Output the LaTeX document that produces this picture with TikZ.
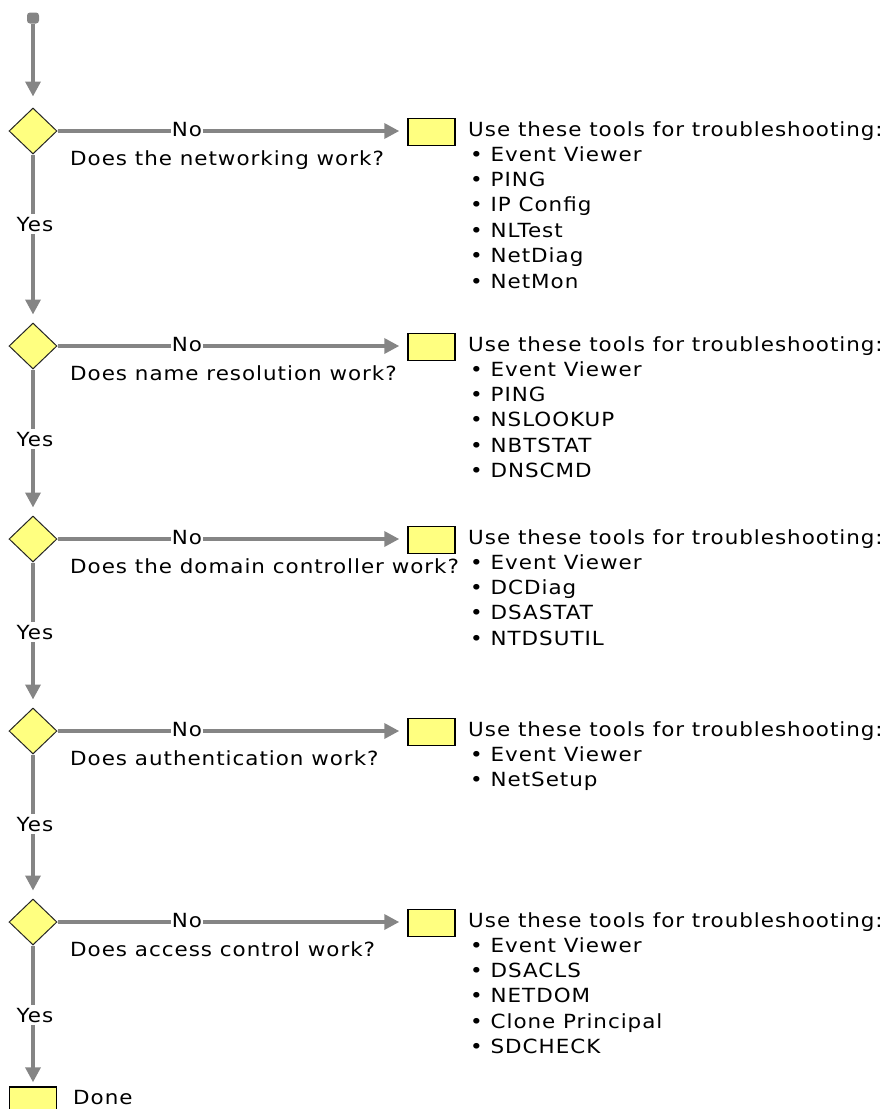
\documentclass[tikz,border=0pt]{standalone}
\usepackage{fontspec}
\setmainfont{DejaVu Sans}[LetterSpace=5,FakeStretch=1.1]
\usetikzlibrary{shapes.geometric,arrows.meta}
\definecolor{lineg}{HTML}{858585}
\definecolor{fillY}{HTML}{FFFF80}
\tikzset{
  decision/.style={diamond, draw=black!85, line width=1pt, fill=fillY, minimum width=48pt, minimum height=46pt, inner sep=0pt},
  toolbox/.style={rectangle, draw=black, line width=1.5pt, fill=fillY, minimum width=47pt, minimum height=27pt, inner sep=0pt},
  startdot/.style={rectangle, rounded corners=3pt, fill=lineg, minimum width=12pt, minimum height=11pt, inner sep=0pt},
  flow/.style={draw=lineg, line width=3.5pt, -{Triangle[width=15pt,length=15pt]}},
  lbl/.style={fill=white, inner xsep=1pt, inner ysep=3pt, anchor=base},
  txt/.style={anchor=base west, inner sep=0pt},
}
\newcommand\mkrow[4]{%
  \node[decision] (d#1) at (33,#2) {};
  \node[toolbox] (b#1) at (431.5,#2+1) {};
  \draw[flow, shorten >=8pt] (d#1.east) -- (d#1.east -| b#1.west);
  \node[lbl] (no#1) at (187,#2+5) {No};
  \node[txt] (q#1) at (70,#2+34) {#3};
  \node[txt] (h#1) at (468,#2+5) {Use these tools for troubleshooting:};
  \foreach \itm [count=\k from 0] in {#4} {
    \node[txt] (t#1-\k) at (470,#2+30+25.4*\k) {• \itm};
  }
}
\begin{document}
\begin{tikzpicture}[x=1pt,y=-1pt,font=\fontsize{19.5}{23}\selectfont]
\useasboundingbox (0,0) rectangle (885,1109);
\clip (0,0) rectangle (885,1109);
\node[startdot] (s) at (33,18) {};
\mkrow{1}{131}{Does the networking work?}{Event Viewer,PING,IP Config,NLTest,NetDiag,NetMon}
\mkrow{2}{346}{Does name resolution work?}{Event Viewer,PING,NSLOOKUP,NBTSTAT,DNSCMD}
\mkrow{3}{539}{Does the domain controller work?}{Event Viewer,DCDiag,DSASTAT,NTDSUTIL}
\mkrow{4}{731}{Does authentication work?}{Event Viewer,NetSetup}
\mkrow{5}{922}{Does access control work?}{Event Viewer,DSACLS,NETDOM,Clone Principal,SDCHECK}
\node[toolbox] (done) at (33,1100.5) {};
\node[txt] (donet) at (73,1104) {Done};
\draw[flow, shorten >=11pt] (s) -- (d1);
\draw[flow, shorten >=8pt] (d1) -- (d2);
\draw[flow, shorten >=8pt] (d2) -- (d3);
\draw[flow, shorten >=8pt] (d3) -- (d4);
\draw[flow, shorten >=8pt] (d4) -- (d5);
\draw[flow, shorten >=4pt] (d5) -- (done);
\node[lbl] (y1) at (35,231) {Yes};
\node[lbl] (y2) at (35,446) {Yes};
\node[lbl] (y3) at (35,639) {Yes};
\node[lbl] (y4) at (35,831) {Yes};
\node[lbl] (y5) at (35,1022) {Yes};
\end{tikzpicture}
\end{document}
